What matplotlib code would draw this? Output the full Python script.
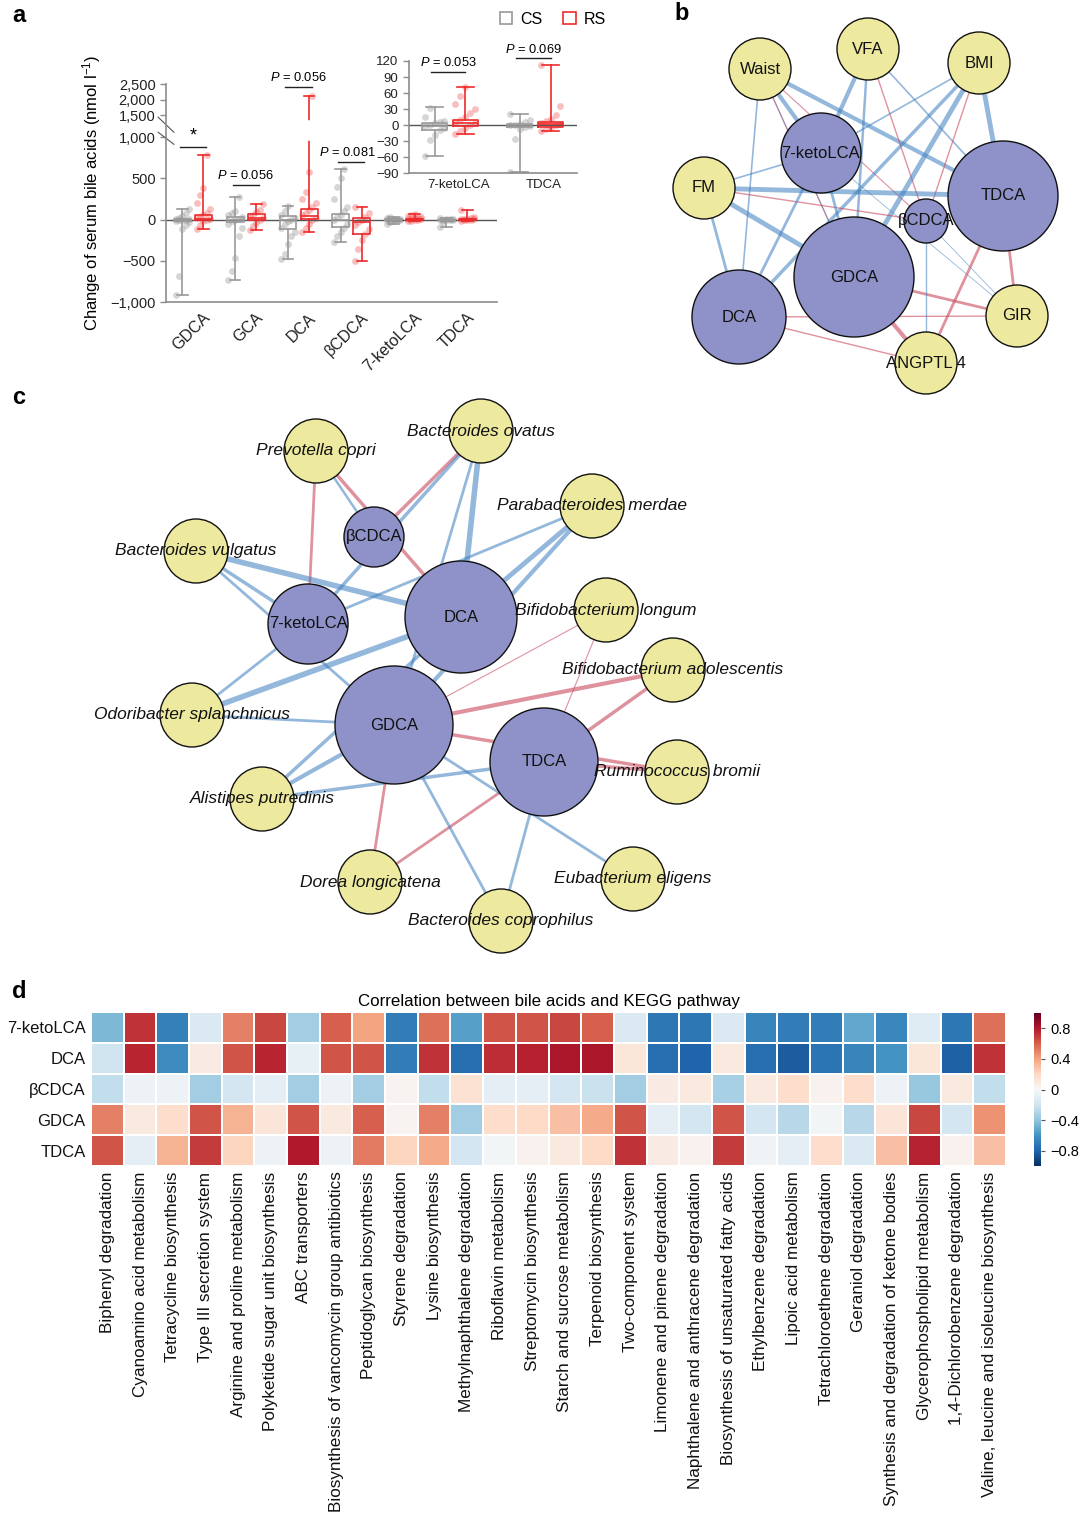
import numpy as np
import matplotlib
matplotlib.use("Agg")
import matplotlib.pyplot as plt
from matplotlib.patches import Circle, Patch
from matplotlib.transforms import ScaledTranslation

plt.rcParams['font.family'] = ['Liberation Sans', 'DejaVu Sans']
plt.rcParams['mathtext.fontset'] = 'custom'
plt.rcParams['mathtext.rm'] = 'Liberation Sans'
plt.rcParams['mathtext.it'] = 'Liberation Sans:italic'

# ---------------- data: panel a ----------------
acids_a = ['GDCA', 'GCA', 'DCA', 'βCDCA', '7-ketoLCA', 'TDCA']
# (whislo, q1, median, q3, whishi)
cs_stats = [(-910, -20, 0, 10, 130), (-730, -35, 0, 30, 280), (-480, -110, 0, 40, 160),
            (-275, -95, 0, 65, 610), (-58, -9, -2, 4, 33), (-88, -3, -1, 1, 21)]
rs_stats = [(-120, 0, 10, 60, 790), (-130, -10, 20, 65, 185), (-150, 10, 40, 125, 2100),
            (-500, -170, -30, 15, 150), (-17, -2, 3, 10, 72), (-11, -3, 2, 6, 113)]
cs_points = [
    [-910, -690, -120, -60, -30, -20, -10, 0, 0, 5, 10, 20, 40, 80, 130],
    [-730, -620, -470, -200, -100, -50, -20, 0, 10, 30, 50, 80, 110, 280],
    [-480, -420, -300, -200, -150, -100, -50, -20, 0, 20, 50, 100, 160],
    [-270, -200, -150, -100, -50, 0, 30, 60, 100, 150, 250, 400, 500, 610],
    [-58, -28, -18, -10, -5, -2, 0, 3, 5, 8, 15, 32],
    [-88, -27, -8, -3, -2, 0, 0, 2, 5, 10, 20],
]
rs_points = [
    [-120, -60, -20, 0, 10, 20, 30, 50, 80, 130, 200, 300, 380, 780],
    [-130, -80, -40, 0, 20, 40, 60, 90, 120, 185],
    [-150, -100, -50, 0, 20, 50, 80, 120, 150, 200, 250, 340, 580, 2100],
    [-500, -360, -250, -170, -120, -60, -30, 0, 30, 80, 150],
    [-17, -12, -5, 0, 3, 5, 10, 15, 22, 30, 40, 55, 72],
    [-12, -8, -4, 0, 2, 4, 8, 12, 18, 35, 112],
]
p_main = ['*', '$P$ = 0.056', '$P$ = 0.056', '$P$ = 0.081']
p_main_y = [877, 420, 2400, 700]
p_inset = ['$P$ = 0.053', '$P$ = 0.069']
p_inset_y = [99, 125]

# ---------------- data: panel b ----------------
nodes_b = {
    'Waist': (760, 69, 31, 'trait'), 'VFA': (868, 49, 31, 'trait'),
    'BMI': (979, 63, 31, 'trait'), 'FM': (704, 188, 31, 'trait'),
    'GIR': (1017, 316, 31, 'trait'), 'ANGPTL 4': (926, 363, 31, 'trait'),
    '7-ketoLCA': (821, 153, 40, 'acid'), 'TDCA': (1003, 196, 55, 'acid'),
    'βCDCA': (926, 221, 22, 'acid'), 'GDCA': (854, 277, 60, 'acid'),
    'DCA': (739, 317, 47, 'acid'),
}
edges_b = [
    ('Waist', 'DCA', -1, 1.2), ('Waist', '7-ketoLCA', -1, 3.0), ('Waist', 'TDCA', -1, 3.0),
    ('Waist', 'GDCA', 1, 1.0), ('Waist', 'βCDCA', 1, 0.8), ('Waist', 'GDCA', -1, 0.6),
    ('VFA', '7-ketoLCA', -1, 3.0), ('VFA', 'GDCA', -1, 1.8), ('VFA', 'TDCA', -1, 1.2),
    ('VFA', 'βCDCA', 1, 1.0),
    ('BMI', '7-ketoLCA', -1, 1.2), ('BMI', 'DCA', -1, 2.5), ('BMI', 'GDCA', -1, 3.5),
    ('BMI', 'TDCA', -1, 3.5), ('BMI', 'βCDCA', 1, 1.0),
    ('FM', '7-ketoLCA', -1, 1.2), ('FM', 'TDCA', -1, 3.5), ('FM', 'βCDCA', 1, 1.0),
    ('FM', 'GDCA', -1, 3.5), ('FM', 'DCA', -1, 2.0),
    ('7-ketoLCA', 'DCA', -1, 2.0), ('7-ketoLCA', 'GDCA', -1, 2.0), ('7-ketoLCA', 'GIR', -1, 0.6),
    ('DCA', 'GIR', 1, 1.0), ('DCA', 'ANGPTL 4', 1, 1.0),
    ('GDCA', 'GIR', 1, 2.0), ('GDCA', 'ANGPTL 4', 1, 3.0),
    ('TDCA', 'GIR', 1, 2.0), ('TDCA', 'ANGPTL 4', 1, 2.0),
    ('βCDCA', 'ANGPTL 4', -1, 1.0), ('βCDCA', 'GIR', -1, 0.6),
]

# ---------------- data: panel c ----------------
nodes_c = {
    'Prevotella copri': (316, 451, 32, 'taxon'), 'Bacteroides ovatus': (481, 431, 32, 'taxon'),
    'Parabacteroides merdae': (592, 506, 32, 'taxon'), 'Bacteroides vulgatus': (196, 551, 32, 'taxon'),
    'Bifidobacterium longum': (606, 610, 32, 'taxon'),
    'Bifidobacterium adolescentis': (673, 670, 32, 'taxon'),
    'Odoribacter splanchnicus': (192, 715, 32, 'taxon'), 'Alistipes putredinis': (262, 799, 32, 'taxon'),
    'Ruminococcus bromii': (677, 772, 32, 'taxon'), 'Dorea longicatena': (370, 882, 32, 'taxon'),
    'Eubacterium eligens': (633, 879, 32, 'taxon'), 'Bacteroides coprophilus': (501, 921, 32, 'taxon'),
    'βCDCA': (374, 537, 30, 'acid'), '7-ketoLCA': (308, 624, 40, 'acid'),
    'DCA': (461, 617, 56, 'acid'), 'GDCA': (394, 725, 59, 'acid'), 'TDCA': (544, 762, 54, 'acid'),
}
edges_c = [
    ('Prevotella copri', '7-ketoLCA', 1, 2.0), ('Prevotella copri', 'βCDCA', -1, 1.8),
    ('Prevotella copri', 'DCA', 1, 2.5),
    ('Bacteroides ovatus', 'βCDCA', 1, 2.5), ('Bacteroides ovatus', '7-ketoLCA', -1, 2.5),
    ('Bacteroides ovatus', 'DCA', -1, 4.0), ('Bacteroides ovatus', 'GDCA', -1, 2.0),
    ('Parabacteroides merdae', '7-ketoLCA', -1, 2.0), ('Parabacteroides merdae', 'DCA', -1, 3.5),
    ('Parabacteroides merdae', 'GDCA', -1, 3.0),
    ('Bacteroides vulgatus', 'DCA', -1, 4.0), ('Bacteroides vulgatus', '7-ketoLCA', -1, 2.5),
    ('Bacteroides vulgatus', 'GDCA', -1, 2.0),
    ('Odoribacter splanchnicus', '7-ketoLCA', -1, 2.0), ('Odoribacter splanchnicus', 'DCA', -1, 4.0),
    ('Odoribacter splanchnicus', 'GDCA', -1, 2.0),
    ('Alistipes putredinis', 'GDCA', -1, 3.0), ('Alistipes putredinis', 'DCA', -1, 2.5),
    ('Alistipes putredinis', 'TDCA', -1, 2.5),
    ('Dorea longicatena', 'GDCA', 1, 2.0), ('Dorea longicatena', 'TDCA', 1, 2.0),
    ('Bacteroides coprophilus', 'GDCA', -1, 2.0), ('Bacteroides coprophilus', 'TDCA', -1, 2.0),
    ('Eubacterium eligens', 'GDCA', -1, 2.0),
    ('Bifidobacterium longum', 'GDCA', 1, 0.8), ('Bifidobacterium longum', 'TDCA', 1, 0.8),
    ('Bifidobacterium adolescentis', 'GDCA', 1, 3.0), ('Bifidobacterium adolescentis', 'TDCA', 1, 2.5),
    ('Ruminococcus bromii', 'TDCA', 1, 2.5), ('Ruminococcus bromii', 'GDCA', 1, 2.5),
]

# ---------------- data: panel d ----------------
heat_rows = ['7-ketoLCA', 'DCA', 'βCDCA', 'GDCA', 'TDCA']
pathways = [
    'Biphenyl degradation', 'Cyanoamino acid metabolism', 'Tetracycline biosynthesis',
    'Type III secretion system', 'Arginine and proline metabolism',
    'Polyketide sugar unit biosynthesis', 'ABC transporters',
    'Biosynthesis of vancomycin group antibiotics', 'Peptidoglycan biosynthesis',
    'Styrene degradation', 'Lysine biosynthesis', 'Methylnaphthalene degradation',
    'Riboflavin metabolism', 'Streptomycin biosynthesis', 'Starch and sucrose metabolism',
    'Terpenoid biosynthesis', 'Two-component system', 'Limonene and pinene degradation',
    'Naphthalene and anthracene degradation', 'Biosynthesis of unsaturated fatty acids',
    'Ethylbenzene degradation', 'Lipoic acid metabolism', 'Tetrachloroethene degradation',
    'Geraniol degradation', 'Synthesis and degradation of ketone bodies',
    'Glycerophospholipid metabolism', '1,4-Dichlorobenzene degradation',
    'Valine, leucine and isoleucine biosynthesis',
]
r_ketolca = [-0.45, 0.72, -0.68, -0.15, 0.5, 0.67, -0.35, 0.6, 0.4, -0.7, 0.55, -0.55, 0.63, 0.63,
             0.67, 0.6, -0.15, -0.72, -0.72, -0.15, -0.66, -0.7, -0.7, -0.52, -0.65, -0.12, -0.72, 0.55]
r_dca = [-0.2, 0.76, -0.63, 0.08, 0.63, 0.76, -0.08, 0.63, 0.63, -0.7, 0.72, -0.76, 0.74, 0.78,
         0.82, 0.82, 0.12, -0.76, -0.8, 0.1, -0.76, -0.83, -0.73, -0.66, -0.6, 0.12, -0.82, 0.72]
r_bcdca = [-0.25, -0.06, -0.06, -0.35, -0.18, -0.1, -0.35, -0.06, -0.35, 0.03, -0.25, 0.15, -0.1, -0.1,
           -0.18, -0.22, -0.35, 0.08, 0.1, -0.33, 0.1, 0.18, 0.04, 0.18, -0.06, -0.38, 0.1, -0.25]
r_gdca = [0.5, 0.1, 0.18, 0.63, 0.35, 0.13, 0.63, 0.1, 0.6, 0.03, 0.5, -0.35, 0.18, 0.2,
          0.3, 0.38, 0.63, -0.1, -0.18, 0.63, -0.18, -0.28, -0.03, -0.28, 0.13, 0.67, -0.18, 0.45]
r_tdca = [0.63, -0.1, 0.35, 0.7, 0.22, -0.06, 0.8, -0.06, 0.52, 0.22, 0.38, -0.18, -0.03, 0.04,
          0.1, 0.2, 0.72, 0.08, 0.04, 0.7, -0.04, -0.1, 0.18, -0.15, 0.3, 0.77, 0.04, 0.3]

# ---------------- styling ----------------
GRAY = '#9a9a9a'
RED = '#ee2b2b'
SPINE = '#8c8c8c'
BLUE_E = '#3d7ebf'
RED_E = '#c94a5e'
PURPLE = '#8f92c8'
YELLOW = '#ede99e'

W, H = 1080, 1518
fig = plt.figure(figsize=(W / 100, H / 100), dpi=100)


def px_axes(x0, y0, x1, y1, **kw):
    return fig.add_axes([x0 / W, 1 - y1 / H, (x1 - x0) / W, (y1 - y0) / H], **kw)


def to_stats(s):
    lo, q1, med, q3, hi = s
    return dict(whislo=lo, q1=q1, med=med, q3=q3, whishi=hi, fliers=[])


def draw_boxes(ax, pos, stats, points, color, pt_color, width, capw):
    props = dict(color=color, lw=1.2)
    ax.bxp([to_stats(s) for s in stats], positions=pos, widths=width, capwidths=capw,
           showfliers=False, boxprops=props, whiskerprops=props, capprops=props,
           medianprops=props, manage_ticks=False)
    for p, vals in zip(pos, points):
        jit = (np.arange(len(vals)) % 5 - 2) * width * 0.2
        ax.scatter(p + jit, vals, s=24, color=pt_color, alpha=0.35, lw=0, zorder=1.5)


def style_axes(ax, fs):
    for s in ['top', 'right']:
        ax.spines[s].set_visible(False)
    for s in ['left', 'bottom']:
        ax.spines[s].set_color(SPINE)
        ax.spines[s].set_linewidth(1.2)
    ax.tick_params(axis='y', colors=SPINE, labelcolor='#222222', labelsize=fs, length=4, width=1)
    ax.tick_params(axis='x', length=0, labelcolor='#222222', labelsize=fs)
    ax.patch.set_visible(False)


def bracket(ax, xc, y, text, half=0.25, fs=9.3, dx=0.0):
    ax.plot([xc - half, xc + half], [y, y], color='#222222', lw=1, clip_on=False)
    ax.annotate(text, (xc + dx, y), xytext=(0, 2), textcoords='offset points', ha='center',
                va='bottom', fontsize=fs if text != '*' else 13, annotation_clip=False)


fmt = lambda v: f"{int(v):,}".replace('-', '\u2212')

# ---------------- panel a: main ----------------
ax_a = px_axes(166, 84, 497, 302)
brk_data = [-1e5, -1000, 1000, 1500, 2500, 1e5]
brk_axis = [-1e5, -1000, 1025, 1296, 1679, 1679 + (1e5 - 2500) * 0.383]
ax_a.set_yscale('function', functions=(lambda v: np.interp(v, brk_data, brk_axis),
                                       lambda v: np.interp(v, brk_axis, brk_data)))
xa = np.arange(len(acids_a))
draw_boxes(ax_a, xa - 0.2, cs_stats, cs_points, GRAY, '#8a8a8a', 0.32, 0.2)
draw_boxes(ax_a, xa + 0.2, rs_stats, rs_points, RED, '#f04848', 0.32, 0.2)
ax_a.axhline(0, color='#555555', lw=1, zorder=1.8)
ax_a.set_xlim(-0.51, 5.76)
ax_a.set_ylim(-1000, 2500)
ax_a.set_yticks([-1000, -500, 0, 500, 1000, 1500, 2000, 2500])
ax_a.set_yticklabels([fmt(v) for v in [-1000, -500, 0, 500, 1000, 1500, 2000, 2500]])
ax_a.set_xticks(xa)
ax_a.set_xticklabels(acids_a, rotation=45, ha='right', va='top', rotation_mode='anchor')
style_axes(ax_a, 10.5)
ax_a.tick_params(axis='x', labelsize=11.5, pad=6)
for lab in ax_a.get_xticklabels():
    lab.set_transform(lab.get_transform() + ScaledTranslation(7 / 72, 0, fig.dpi_scale_trans))
ax_a.set_ylabel('Change of serum bile acids (nmol l$^{-1}$)', fontsize=12, labelpad=5)
# axis break: gap in DCA whisker and slanted marks
ax_a.plot([2.2, 2.2], [990, 1320], color='white', lw=4, zorder=3)
bt = ax_a.get_yaxis_transform()
ax_a.plot([-0.024, 0.024], [1456, 1113], color='#555555', lw=0.8, transform=bt, clip_on=False)
ax_a.plot([-0.024, 0.024], [1113, 914], color='#555555', lw=0.8, transform=bt, clip_on=False)
for i, (t, y) in enumerate(zip(p_main, p_main_y)):
    bracket(ax_a, xa[i], y, t, dx=-0.08 if i == 3 else 0.0)

# ---------------- panel a: inset ----------------
ax_in = px_axes(409, 61, 577, 173)
xi = np.arange(2)
draw_boxes(ax_in, xi - 0.18, cs_stats[4:], cs_points[4:], GRAY, '#8a8a8a', 0.29, 0.2)
draw_boxes(ax_in, xi + 0.18, rs_stats[4:], rs_points[4:], RED, '#f04848', 0.29, 0.2)
ax_in.axhline(0, color='#555555', lw=1, zorder=1.8)
ax_in.set_xlim(-0.48, 1.49)
ax_in.set_ylim(-90, 120)
ax_in.set_yticks([-90, -60, -30, 0, 30, 60, 90, 120])
ax_in.set_yticklabels([fmt(v) for v in [-90, -60, -30, 0, 30, 60, 90, 120]])
ax_in.set_xticks(xi + 0.1)
ax_in.set_xticklabels(acids_a[4:])
style_axes(ax_in, 9.5)
ax_in.tick_params(axis='x', pad=4)
for i, (t, y) in enumerate(zip(p_inset, p_inset_y)):
    bracket(ax_in, xi[i] - 0.02, y, t, half=0.2)

fig.legend(handles=[Patch(facecolor='none', edgecolor=GRAY, lw=1.2, label='CS'),
                    Patch(facecolor='none', edgecolor=RED, lw=1.2, label='RS')],
           loc='center', bbox_to_anchor=(553 / W, 1 - 19 / H), ncol=2, frameon=False,
           handlelength=0.8, handleheight=0.8, handletextpad=0.5, columnspacing=1.3, fontsize=11.5)

# ---------------- panels b and c: networks ----------------
ax_net = fig.add_axes([0, 0, 1, 1])
ax_net.set_xlim(0, W)
ax_net.set_ylim(H, 0)
ax_net.axis('off')


def draw_network(nodes, edges, fs_acid, fs_other, italic_other):
    for a, b, sign, w in edges:
        xa_, ya_ = nodes[a][:2]
        xb_, yb_ = nodes[b][:2]
        ax_net.plot([xa_, xb_], [ya_, yb_], color=BLUE_E if sign < 0 else RED_E,
                    lw=w, alpha=0.55 if sign < 0 else 0.6, solid_capstyle='butt', zorder=1)
    for name, (x, y, r, kind) in nodes.items():
        ax_net.add_patch(Circle((x, y), r, facecolor=PURPLE if kind == 'acid' else YELLOW,
                                edgecolor='#111111', lw=1, zorder=2))
    for name, (x, y, r, kind) in nodes.items():
        it = italic_other and kind != 'acid'
        ax_net.text(x, y, name, ha='center', va='center', zorder=3, color='#111111',
                    fontsize=fs_acid if kind == 'acid' else fs_other,
                    style='italic' if it else 'normal')


draw_network(nodes_b, edges_b, 12, 12, False)
draw_network(nodes_c, edges_c, 12, 12.5, True)

# ---------------- panel d: heatmap ----------------
corr = np.array([r_ketolca, r_dca, r_bcdca, r_gdca, r_tdca])
ax_d = px_axes(91, 1012, 1006, 1166)
mesh = ax_d.pcolormesh(corr, cmap='RdBu_r', vmin=-1, vmax=1, edgecolors='white', linewidth=0.3)
ax_d.set_ylim(len(heat_rows), 0)
ax_d.set_xticks(np.arange(len(pathways)) + 0.5)
ax_d.set_xticklabels(pathways, rotation=90, fontsize=12.3)
ax_d.set_yticks(np.arange(len(heat_rows)) + 0.5)
ax_d.set_yticklabels(heat_rows, fontsize=12)
ax_d.tick_params(length=0, pad=4, labelcolor='#111111')
for s in ax_d.spines.values():
    s.set_visible(False)
ax_d.set_title('Correlation between bile acids and KEGG pathway', fontsize=12.2, pad=4)

cax = px_axes(1034, 1013, 1041, 1166)
cb = fig.colorbar(mesh, cax=cax, ticks=[-0.8, -0.4, 0, 0.4, 0.8])
cb.ax.set_yticklabels(['\u22120.8', '\u22120.4', '0', '0.4', '0.8'])
cb.outline.set_visible(False)
cb.ax.tick_params(labelsize=10.5, length=3, width=0.8, color='#555555')

# ---------------- panel letters ----------------
for letter, (x, y) in zip('abcd', [(12, 15), (674, 13), (12, 398), (12, 992)]):
    fig.text(x / W, 1 - y / H, letter, fontsize=17, fontweight='bold', ha='left', va='center')

fig.savefig('out.png', dpi=100)
